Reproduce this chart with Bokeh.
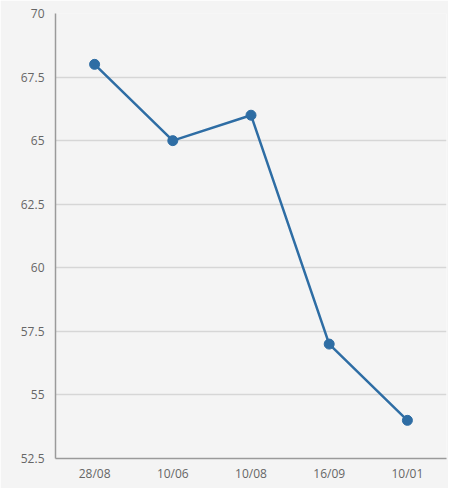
from bokeh.plotting import figure
from bokeh.models import ColumnDataSource, Range1d, FixedTicker
from bokeh.embed import file_html
from bokeh.resources import INLINE

categories = ["28/08", "10/06", "10/08", "16/09", "10/01"]
values = [68, 65, 66, 57, 54]
y_ticks = [52.5, 55, 57.5, 60, 62.5, 65, 67.5, 70]
y_tick_labels = ["52.5", "55", "57.5", "60", "62.5", "65", "67.5", "70"]

src = ColumnDataSource(dict(x=categories, y=values))

p = figure(width=448, height=488, x_range=categories, y_range=Range1d(52.5, 70),
           output_backend="svg", toolbar_location=None,
           min_border_left=55, min_border_top=13, min_border_right=2, min_border_bottom=30)
p.background_fill_color = "#f4f4f4"
p.border_fill_color = "#f4f4f4"
p.outline_line_color = None

p.line("x", "y", source=src, line_color="#2e6da4", line_width=2.5)
p.scatter("x", "y", source=src, size=10, fill_color="#2e6da4", line_color="#2e6da4")

p.xgrid.grid_line_color = None
p.ygrid.grid_line_color = "#d6d6d6"
p.ygrid.grid_line_width = 1.5
p.yaxis.ticker = FixedTicker(ticks=y_ticks)
p.yaxis.major_label_overrides = {t: l for t, l in zip(y_ticks, y_tick_labels)}

for ax in (p.xaxis[0], p.yaxis[0]):
    ax.axis_line_color = "#9a9a9a"
    ax.axis_line_width = 1.5
    ax.major_tick_line_color = None
    ax.minor_tick_line_color = None
    ax.major_tick_out = 0
    ax.major_tick_in = 0
    ax.major_label_text_font = "Open Sans"
    ax.major_label_text_font_size = "12px"
    ax.major_label_text_color = "#666666"
p.yaxis.major_label_standoff = 11
p.xaxis.major_label_standoff = 6

open("out.html", "w").write(file_html(p, INLINE))
